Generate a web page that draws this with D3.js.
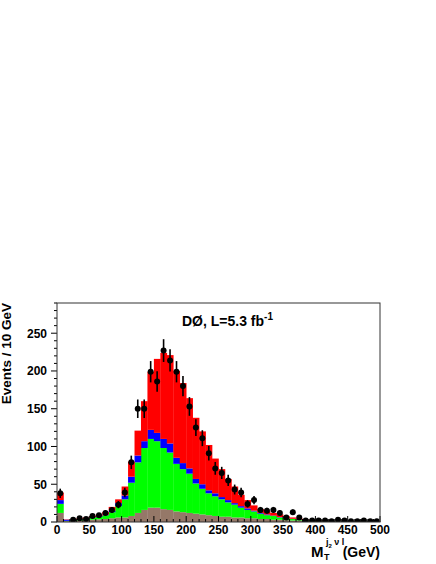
<!DOCTYPE html>
<html>
<head>
<meta charset="utf-8">
<script src="https://cdn.jsdelivr.net/npm/d3@7"></script>
<style>
  body { margin: 0; background: #fff; }
  text { font-family: 'Liberation Sans', Arial, Helvetica, sans-serif; font-weight: bold; }
</style>
</head>
<body>
<div id="chart"></div>
<script>
// Bins of 10 GeV from 0 to 500
var binEdges = d3.range(0, 510, 10)

// Stacked background components (height of each component, events / bin)
var brown = [12, 1, 1, 2, 2.5, 3, 3.5, 4, 5, 6,
  6, 8, 12, 16, 19, 19, 17, 16, 14, 13,
  12, 11, 10, 9, 8, 7, 7, 6, 6, 5,
  5, 4, 4, 3, 3, 2.5, 2, 2, 1.5, 1.3,
  1.2, 1, 0.8, 0.8, 0.7, 0.6, 0.6, 0.5, 0.5, 0.4]
var green = [12, 0.5, 1, 1.5, 2, 3, 3.5, 5, 8, 15,
  24, 44, 67, 82, 91, 88, 81, 76, 63, 57,
  52, 40, 34, 29, 26, 23, 19, 17, 13, 11,
  9, 7, 5, 5, 3, 2.5, 2, 1, 0.8, 0.7,
  0.4, 0.4, 0.3, 0.3, 0.3, 0.3, 0.2, 0.2, 0.2, 0.2]
var blue = [5, 1.5, 0.5, 0.5, 0.5, 0.5, 1, 1, 2, 4,
  5, 8, 9, 9, 12, 11, 12, 12, 8, 8,
  7, 6, 6, 4, 4, 3, 3, 2, 2, 2,
  1, 1, 1, 0.5, 0.5, 0.5, 0.3, 0.3, 0.2, 0.2,
  0.2, 0.1, 0.1, 0.1, 0.1, 0.1, 0.1, 0.1, 0.1, 0.1]
var red = [10, 0.5, 0.5, 1, 1, 1.5, 2, 3, 5, 5,
  12, 20, 33, 53, 77, 98, 114, 117, 115, 106,
  93, 81, 70, 60, 46, 37, 28, 22, 15, 11,
  7, 5, 4, 3.5, 3.5, 2, 1.7, 1.2, 0.7, 0.5,
  0.4, 0.5, 0.3, 0.3, 0.3, 0.2, 0.2, 0.2, 0.2, 0.2]

// Observed data (events / bin), 0 = no point
var dataCounts = [38, 0, 3, 5, 4, 8, 9, 12, 16, 23,
  39, 79, 150, 150, 199, 186, 227, 214, 199, 180,
  153, 125, 111, 91, 71, 65, 55, 43, 39, 24,
  29, 16, 15, 16, 12, 6, 13, 6, 2, 2,
  2, 2, 1, 3, 2, 1, 1, 2, 1, 1]

var componentKeys = ['brown', 'green', 'blue', 'red']
var componentColors = {brown: '#957868', green: '#00ff00', blue: '#0000ff', red: '#ff0000'}

var xTicks = d3.range(0, 550, 50)
var yTicks = d3.range(0, 300, 50)

// --- settings
var width = 436
var height = 564
var plot = {left: 57, right: 380, top: 303, bottom: 522}

var svg = d3.select('#chart').append('svg')
  .attr('width', width)
  .attr('height', height)

var x = d3.scaleLinear().domain([0, 500]).range([plot.left, plot.right])
var y = d3.scaleLinear().domain([0, 290]).range([plot.bottom, plot.top])

// Clip marks to the frame
svg.append('clipPath').attr('id', 'frameclip')
  .append('rect')
  .attr('x', plot.left).attr('y', plot.top)
  .attr('width', plot.right - plot.left).attr('height', plot.bottom - plot.top)

// Build table for the stack
var table = binEdges.slice(0, -1).map(function(lo, i){
  return {lo: lo, hi: binEdges[i + 1], brown: brown[i], green: green[i], blue: blue[i], red: red[i]}
})
var series = d3.stack().keys(componentKeys)(table)

// Draw stacked histogram
series.forEach(function(s){
  svg.append('g').selectAll('rect')
    .data(s)
    .join('rect')
    .attr('x', function(d){ return x(d.data.lo) })
    .attr('width', function(d){ return x(d.data.hi) - x(d.data.lo) + 0.3 })
    .attr('y', function(d){ return y(d[1]) })
    .attr('height', function(d){ return Math.max(0, y(d[0]) - y(d[1])) })
    .attr('fill', componentColors[s.key])
})

// X axis ticks (inside, pointing up)
var xg = svg.append('g')
d3.range(0, 501, 10).forEach(function(v){
  var major = v % 50 === 0
  xg.append('line')
    .attr('x1', x(v)).attr('x2', x(v))
    .attr('y1', plot.bottom).attr('y2', plot.bottom - (major ? 6 : 3))
    .attr('stroke', '#000').attr('stroke-width', 1)
})
xg.selectAll('text.tick')
  .data(xTicks)
  .join('text')
  .attr('x', function(d){ return x(d) })
  .attr('y', 534)
  .attr('text-anchor', 'middle')
  .attr('font-size', 12)
  .text(function(d){ return d })

// Y axis ticks (outside, pointing left)
var yg = svg.append('g')
d3.range(0, 291, 10).forEach(function(v){
  var major = v % 50 === 0
  yg.append('line')
    .attr('x1', plot.left).attr('x2', plot.left - (major ? 6 : 3))
    .attr('y1', y(v)).attr('y2', y(v))
    .attr('stroke', '#000').attr('stroke-width', 1)
})
yg.selectAll('text.tick')
  .data(yTicks)
  .join('text')
  .attr('x', 47)
  .attr('y', function(d){ return y(d) + 4.3 })
  .attr('text-anchor', 'end')
  .attr('font-size', 12)
  .text(function(d){ return d })

// Data points with error bars
var pts = dataCounts.map(function(n, i){ return {n: n, c: (binEdges[i] + binEdges[i + 1]) / 2} })
  .filter(function(d){ return d.n > 0 })

var dataG = svg.append('g').attr('clip-path', 'url(#frameclip)')

dataG.selectAll('line')
  .data(pts)
  .join('line')
  .attr('x1', function(d){ return x(d.c) }).attr('x2', function(d){ return x(d.c) })
  .attr('y1', function(d){ return y(d.n - Math.sqrt(d.n)) })
  .attr('y2', function(d){ return y(d.n + Math.sqrt(d.n)) })
  .attr('stroke', '#000').attr('stroke-width', 1.6)

dataG.selectAll('circle')
  .data(pts)
  .join('circle')
  .attr('cx', function(d){ return x(d.c) })
  .attr('cy', function(d){ return y(d.n) })
  .attr('r', 3)
  .attr('fill', '#000')

// Frame
svg.append('rect')
  .attr('x', plot.left).attr('y', plot.top)
  .attr('width', plot.right - plot.left).attr('height', plot.bottom - plot.top)
  .attr('fill', 'none').attr('stroke', '#333').attr('stroke-width', 1)

// Title
var title = svg.append('text')
  .attr('x', 182).attr('y', 326)
  .attr('font-size', 14)
title.append('tspan').text('DØ, L=5.3 fb')
title.append('tspan').attr('dy', -6).attr('font-size', 10).text('-1')

// Y axis title
svg.append('text')
  .attr('transform', 'translate(11,' + plot.top + ') rotate(-90)')
  .attr('text-anchor', 'end')
  .attr('font-size', 13.5)
  .text('Events / 10 GeV')

// X axis title: M_T^{j2 nu l} (GeV)
svg.append('text').attr('x', 311).attr('y', 557).attr('font-size', 15).text('M')
svg.append('text').attr('x', 324).attr('y', 560).attr('font-size', 9).text('T')
var sup = svg.append('text').attr('x', 326).attr('y', 545).attr('font-size', 9)
sup.append('tspan').text('j')
sup.append('tspan').attr('dy', 3).attr('font-size', 6).text('2')
sup.append('tspan').attr('dy', -3).text(' ν l')
svg.append('text').attr('x', 380).attr('y', 557).attr('text-anchor', 'end').attr('font-size', 14).text('(GeV)')
</script>
</body>
</html>
